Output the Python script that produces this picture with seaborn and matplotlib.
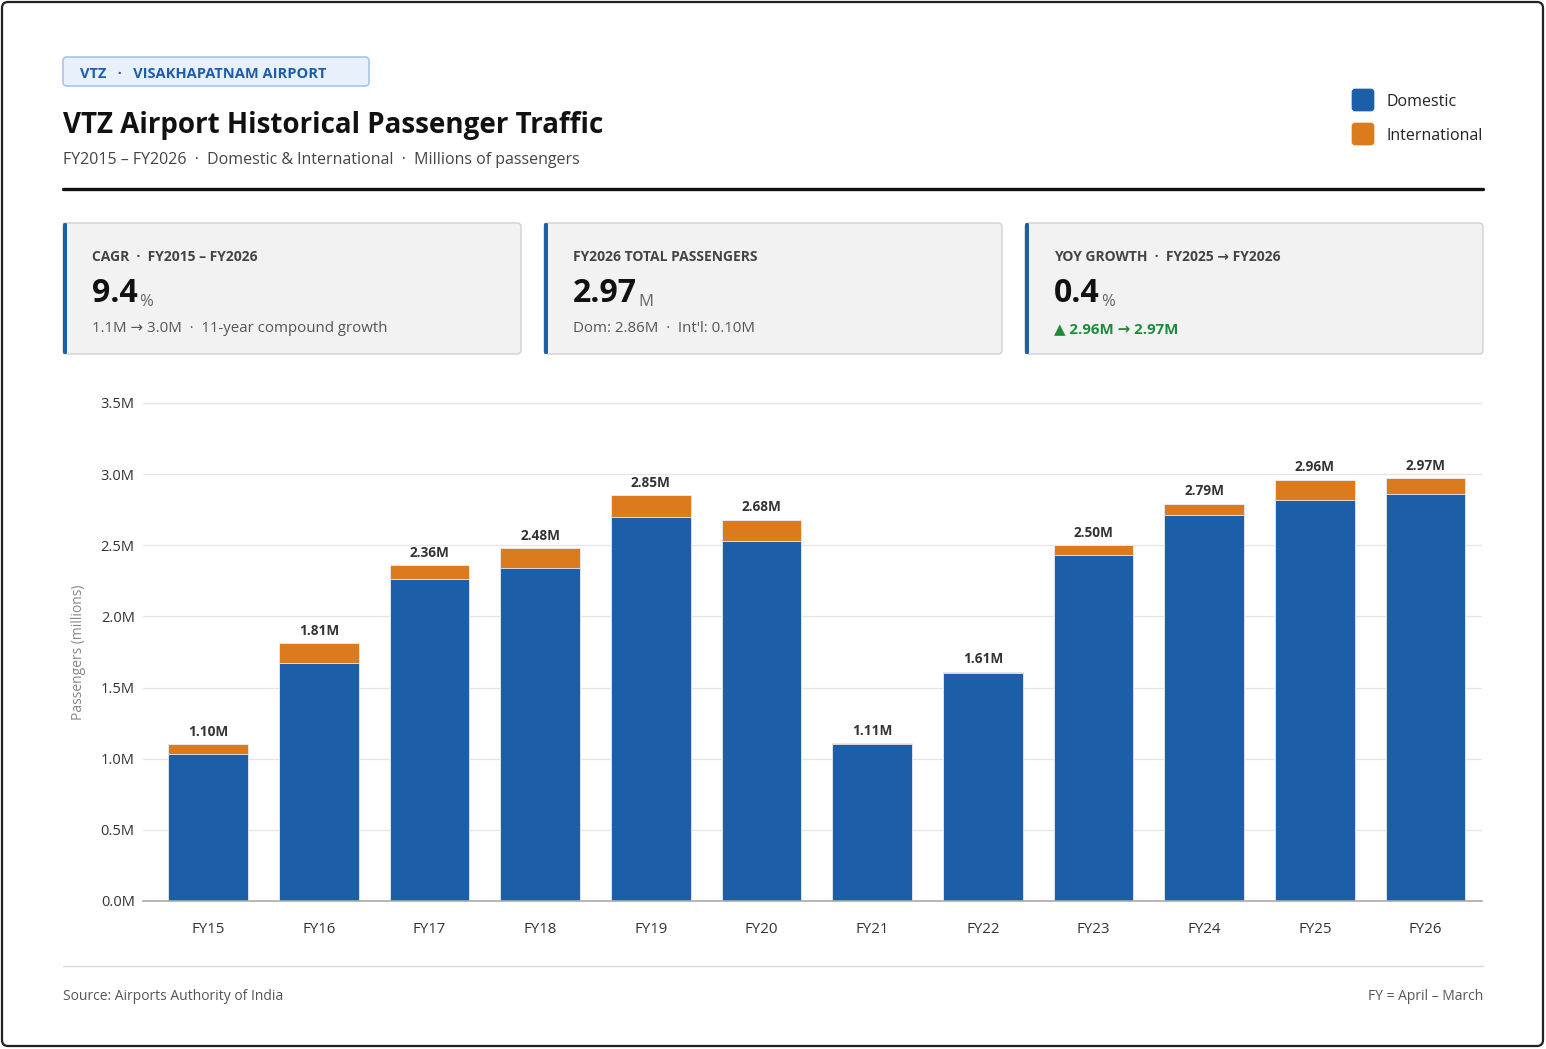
"""VTZ airport historical passenger traffic: stacked domestic / international bars."""

import pandas as pd
import matplotlib
matplotlib.use("Agg")
import matplotlib.pyplot as plt
import seaborn as sns
from matplotlib.patches import FancyBboxPatch
from matplotlib.transforms import IdentityTransform
from matplotlib.lines import Line2D

YEARS         = ["FY15", "FY16", "FY17", "FY18", "FY19", "FY20",
                 "FY21", "FY22", "FY23", "FY24", "FY25", "FY26"]
DOMESTIC      = [1.03, 1.67, 2.26, 2.34, 2.70, 2.53, 1.10, 1.60, 2.43, 2.71, 2.82, 2.86]
INTERNATIONAL = [0.07, 0.14, 0.10, 0.14, 0.15, 0.15, 0.01, 0.01, 0.07, 0.08, 0.14, 0.11]
Y_TICKS       = [0.0, 0.5, 1.0, 1.5, 2.0, 2.5, 3.0, 3.5]

CARD_LABELS = ["CAGR  ·  FY2015 – FY2026", "FY2026 TOTAL PASSENGERS",
               "YOY GROWTH  ·  FY2025 → FY2026"]
CARD_VALUES = ["9.4", "2.97", "0.4"]
CARD_UNITS  = ["%", "M", "%"]
CARD_SUBS   = ["1.1M → 3.0M  ·  11-year compound growth",
               "Dom: 2.86M  ·  Int'l: 0.10M",
               "▲ 2.96M → 2.97M"]

BLUE   = "#1c5fa8"
ORANGE = "#db7b1e"
GREEN  = "#1e8a3c"
W, H   = 1546, 1049
FONT   = ["Open Sans", "DejaVu Sans"]

sns.set_theme(style="white")
plt.rcParams["font.family"] = FONT

df = pd.DataFrame({"year": YEARS, "domestic": DOMESTIC, "international": INTERNATIONAL})
df["total"] = df["domestic"] + df["international"]

fig = plt.figure(figsize=(W / 100, H / 100), dpi=100)
px = IdentityTransform()


def txt(x, y, s, **kw):
    """Place text using pixel coords measured from the top-left corner."""
    kw.setdefault("va", "center")
    return fig.text(x / W, 1 - y / H, s, **kw)


def box(x0, y0, x1, y1, fc, ec, lw=1.0, r=4):
    p = FancyBboxPatch((x0, H - y1), x1 - x0, y1 - y0,
                       boxstyle=f"round,pad=0,rounding_size={r}",
                       fc=fc, ec=ec, lw=lw, transform=px)
    fig.patches.append(p)
    return p


# outer frame
box(2, 2, 1543, 1046, "none", "#222222", lw=1.6, r=6)

# header
box(63, 57, 369, 86, "#e8f0fb", "#a9c4e8", lw=1.2, r=4)
txt(80, 74, "VTZ   ·   VISAKHAPATNAM AIRPORT", fontsize=10.5, fontweight="bold", color=BLUE)
txt(63, 125, "VTZ Airport Historical Passenger Traffic", fontsize=20, fontweight="bold",
    color="#111111")
txt(63, 160, "FY2015 – FY2026  ·  Domestic & International  ·  Millions of passengers",
    fontsize=11.5, color="#444444")
fig.lines.append(Line2D([63 / W, 1483 / W], [1 - 188.5 / H] * 2, transform=fig.transFigure,
                        color="#111111", lw=2.4))

# legend
for y, lab, col in [(100, "Domestic", BLUE), (134, "International", ORANGE)]:
    box(1352, y - 11, 1374, y + 11, col, col, lw=0.5, r=3)
    txt(1386, y + 2, lab, fontsize=11.5, color="#222222")

# KPI cards
renderer = fig.canvas.get_renderer()
for i, x0 in enumerate([63, 544, 1025]):
    box(x0, 223, x0 + 458, 354, "#f2f2f2", "#d0d0d0", lw=1.0, r=4)
    box(x0, 223, x0 + 4, 354, BLUE, BLUE, lw=0, r=1.5)
    txt(x0 + 29, 257, CARD_LABELS[i], fontsize=10, fontweight="bold", color="#444444")
    v = txt(x0 + 29, 294, CARD_VALUES[i], fontsize=23, fontweight="bold", color="#111111")
    ext = v.get_window_extent(renderer)
    fig.text((ext.x1 + 1) / W, ext.y0 / H + 0.004, CARD_UNITS[i], fontsize=12,
             color="#666666", va="baseline")
    sub_kw = dict(fontsize=10.8, color="#555555")
    if i == 2:
        sub_kw = dict(fontsize=10.8, color=GREEN, fontweight="bold")
    txt(x0 + 29, 329, CARD_SUBS[i], **sub_kw)

# chart
ax = fig.add_axes([143 / W, 1 - 901 / H, (1482 - 143) / W, (901 - 403) / H])
sns.barplot(data=df, x="year", y="total", order=YEARS, color=ORANGE, saturation=1,
            width=0.72, edgecolor="#e9eef6", linewidth=0.6, ax=ax)
sns.barplot(data=df, x="year", y="domestic", order=YEARS, color=BLUE, saturation=1,
            width=0.72, edgecolor="#e9eef6", linewidth=0.6, ax=ax)
ax.bar_label(ax.containers[0], labels=[f"{v:.2f}M" for v in df["total"]], padding=4,
             fontsize=9.8, fontweight="bold", color="#333333")

ax.set_ylim(0, 3.5)
ax.set_xlim(-0.59, 11.51)
ax.set_yticks(Y_TICKS)
ax.set_yticklabels([f"{t:.1f}M" for t in Y_TICKS])
ax.yaxis.grid(True, color="#e6e6e6", lw=1)
ax.set_axisbelow(True)
for s in ["top", "right", "left"]:
    ax.spines[s].set_visible(False)
ax.spines["bottom"].set_color("#aaaaaa")
ax.spines["bottom"].set_linewidth(1.2)
ax.tick_params(axis="y", length=0, pad=6, labelsize=10.5, labelcolor="#333333")
ax.tick_params(axis="x", length=0, pad=15, labelsize=10.8, labelcolor="#333333")
ax.set_xlabel("")
ax.set_ylabel("")
txt(78, 652, "Passengers (millions)", fontsize=10, color="#888888", rotation=90, ha="center")

# footer
fig.lines.append(Line2D([63 / W, 1483 / W], [1 - 966 / H] * 2, transform=fig.transFigure,
                        color="#d9d9d9", lw=1))
txt(63, 997, "Source: Airports Authority of India", fontsize=10, color="#555555")
txt(1483, 997, "FY = April – March", fontsize=10, color="#555555", ha="right")

fig.savefig("out.png", dpi=100, facecolor="white")
